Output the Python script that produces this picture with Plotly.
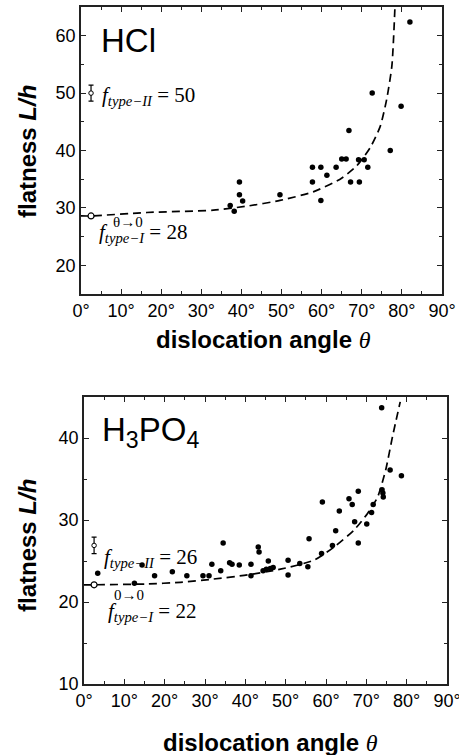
import plotly.graph_objects as go

# ---------------- data ----------------
hcl_theta = [37.2, 38.2, 39.5, 39.5, 40.3, 49.6, 57.7, 57.7, 59.8, 59.8, 61.3, 63.6,
             65.0, 66.1, 66.8, 67.2, 69.2, 70.6, 69.4, 71.5, 72.6, 77.1, 79.8, 82.0]
hcl_flat = [30.4, 29.4, 34.5, 32.3, 31.2, 32.3, 37.1, 34.5, 37.1, 31.3, 35.7, 37.1,
            38.5, 38.5, 43.5, 34.5, 38.4, 38.4, 34.5, 37.1, 50.0, 40.0, 47.7, 62.4]
hcl_fit_theta = [0, 2.5, 16.4, 33.0, 41.3, 49.6, 57.9, 64.6, 68.7, 72.1, 74.6, 76.2, 77.5, 78.3]
hcl_fit_flat = [28.6, 28.6, 29.2, 29.6, 30.3, 31.3, 32.8, 35.0, 37.3, 40.5, 44.2, 48.9, 54.7, 65.5]
hcl_type1 = 28.6
hcl_type2 = 50.0
hcl_type2_err = 1.4

h3po4_theta = [3.4, 12.5, 14.4, 17.5, 21.9, 25.5, 29.5, 31.0, 31.7, 33.9, 34.5, 36.1,
               36.7, 38.5, 41.4, 41.4, 43.2, 43.4, 44.4, 45.2, 45.7, 46.2, 46.9, 50.6,
               50.6, 53.5, 55.5, 55.8, 58.9, 59.1, 61.6, 62.4, 63.3, 65.7, 66.5, 67.1,
               68.0, 68.0, 70.1, 71.3, 71.7, 73.9, 74.1, 74.2, 73.8, 75.9, 78.7]
h3po4_flat = [23.5, 22.3, 24.5, 23.2, 23.7, 23.2, 23.2, 23.2, 24.6, 23.8, 27.2, 24.8,
              24.6, 24.5, 24.6, 23.2, 26.7, 26.1, 23.8, 24.0, 25.0, 24.1, 24.2, 25.1,
              23.3, 24.7, 24.3, 27.7, 25.9, 32.2, 26.9, 28.7, 31.1, 32.6, 31.9, 29.8,
              33.5, 27.2, 29.5, 30.9, 31.9, 33.7, 33.3, 32.8, 43.7, 36.1, 35.4]
h3po4_fit_theta = [0, 2.5, 15.6, 23.9, 32.1, 40.5, 48.7, 57.0, 62.0, 67.0, 70.3, 72.8, 74.8, 76.5, 78.4]
h3po4_fit_flat = [22.1, 22.1, 22.2, 22.4, 22.8, 23.3, 24.0, 25.1, 26.7, 28.8, 30.8, 32.8, 36.1, 40.2, 44.4]
h3po4_type1 = 22.1
h3po4_type2 = 26.9
h3po4_type2_err = 1.0
marker_theta = 2.5

x_ticks = [0, 10, 20, 30, 40, 50, 60, 70, 80, 90]
hcl_y_ticks = [20, 30, 40, 50, 60]
h3po4_y_ticks = [10, 20, 30, 40]

# ---------------- layout helpers ----------------
W, H = 459, 755
def px(x):
    return x / W
def py(y):
    return 1 - y / H

SANS = "Liberation Sans, Arial, sans-serif"
SERIF = "Liberation Serif, Times New Roman, serif"
AX = "#222"

fig = go.Figure()

def add_panel(xa, ya, th, fl, fx, fy, t1, t2, t2e):
    fig.add_trace(go.Scatter(x=fx, y=fy, mode="lines", xaxis=xa, yaxis=ya,
                             line=dict(color="black", width=1.7, dash="8px,5px", shape="spline", smoothing=0.6),
                             hoverinfo="skip", showlegend=False))
    fig.add_trace(go.Scatter(x=th, y=fl, mode="markers", xaxis=xa, yaxis=ya,
                             marker=dict(color="black", size=5.5), showlegend=False))
    fig.add_trace(go.Scatter(x=[marker_theta], y=[t1], mode="markers", xaxis=xa, yaxis=ya,
                             marker=dict(color="white", size=6, line=dict(color="black", width=1.2)),
                             showlegend=False, cliponaxis=False))
    fig.add_trace(go.Scatter(x=[marker_theta], y=[t2], mode="markers", xaxis=xa, yaxis=ya,
                             marker=dict(color="white", size=4.5, line=dict(color="black", width=1)),
                             error_y=dict(type="constant", value=t2e, color="black", thickness=1.2, width=2.5),
                             showlegend=False))

add_panel("x", "y", hcl_theta, hcl_flat, hcl_fit_theta, hcl_fit_flat, hcl_type1, hcl_type2, hcl_type2_err)
add_panel("x2", "y2", h3po4_theta, h3po4_flat, h3po4_fit_theta, h3po4_fit_flat, h3po4_type1, h3po4_type2, h3po4_type2_err)

def xaxis(domain, anchor):
    return dict(domain=domain, anchor=anchor, range=[0, 90], tickvals=x_ticks,
                ticktext=[f"{v}°" for v in x_ticks], ticks="inside", ticklen=5, tickwidth=1.3,
                tickcolor=AX, showline=True, linecolor=AX, linewidth=1.6, mirror="allticks",
                showgrid=False, zeroline=False, automargin=False, ticklabeloverflow="allow",
                tickfont=dict(family=SANS, size=18, color="black"),
                minor=dict(ticks="inside", ticklen=3, tickwidth=1.2, tickcolor=AX, dtick=5, tick0=0, showgrid=False))

def yaxis(domain, anchor, rng, tv):
    return dict(domain=domain, anchor=anchor, range=rng, tickvals=tv, ticks="inside", ticklen=5,
                tickwidth=1.3, tickcolor=AX, showline=True, linecolor=AX, linewidth=1.6,
                mirror="allticks", showgrid=False, zeroline=False, automargin=False,
                ticklabeloverflow="allow",
                tickfont=dict(family=SANS, size=18, color="black"),
                minor=dict(ticks="inside", ticklen=3, tickwidth=1.2, tickcolor=AX, dtick=5, tick0=0, showgrid=False))

fig.update_layout(
    width=W, height=H, margin=dict(l=0, r=0, t=0, b=0),
    paper_bgcolor="white", plot_bgcolor="white", showlegend=False,
    xaxis=xaxis([px(81), px(442)], "y"),
    yaxis=yaxis([py(294), py(7)], "x", [15, 65], hcl_y_ticks),
    xaxis2=xaxis([px(84), px(447)], "y2"),
    yaxis2=yaxis([py(684), py(397)], "x2", [10, 45], h3po4_y_ticks),
)

ann = []
def A(x, y, text, size, family=SANS, angle=0, xanchor="center", yanchor="middle"):
    ann.append(dict(x=px(x), y=py(y), xref="paper", yref="paper", text=text, showarrow=False,
                    textangle=angle, xanchor=xanchor, yanchor=yanchor,
                    font=dict(family=family, size=size, color="black")))

# axis titles
A(27, 152, "<b>flatness <i>L/h</i></b>", 24, angle=-90)
A(27, 546, "<b>flatness <i>L/h</i></b>", 24, angle=-90)
A(263, 339, "<b>dislocation angle </b><i><span style='font-family:Liberation Serif'>θ</span></i>", 24)
A(270, 742, "<b>dislocation angle </b><i><span style='font-family:Liberation Serif'>θ</span></i>", 24)

# panel labels
A(99, 41, "HCl", 33, xanchor="left")
A(100, 432, "H<sub>3</sub>PO<sub>4</sub>", 33, xanchor="left")

# formula labels
A(100, 96, "<i>f</i><sub><i>type−II</i></sub> = 50", 21, family=SERIF, xanchor="left")
A(97, 233, "<i>f</i><sub><i>type−I</i></sub> = 28", 21, family=SERIF, xanchor="left")
A(111, 222, "θ→0", 15, family=SERIF, xanchor="left")
A(102, 558, "<i>f</i><sub><i>type−II</i></sub> = 26", 21, family=SERIF, xanchor="left")
A(106, 612, "<i>f</i><sub><i>type−I</i></sub> = 22", 21, family=SERIF, xanchor="left")
A(112, 595, "0→0", 15, family=SERIF, xanchor="left")

fig.update_layout(annotations=ann)
fig.write_html("out.html", config={"displayModeBar": False},
               post_script="document.body.style.margin='0';document.body.style.overflow='hidden';")
